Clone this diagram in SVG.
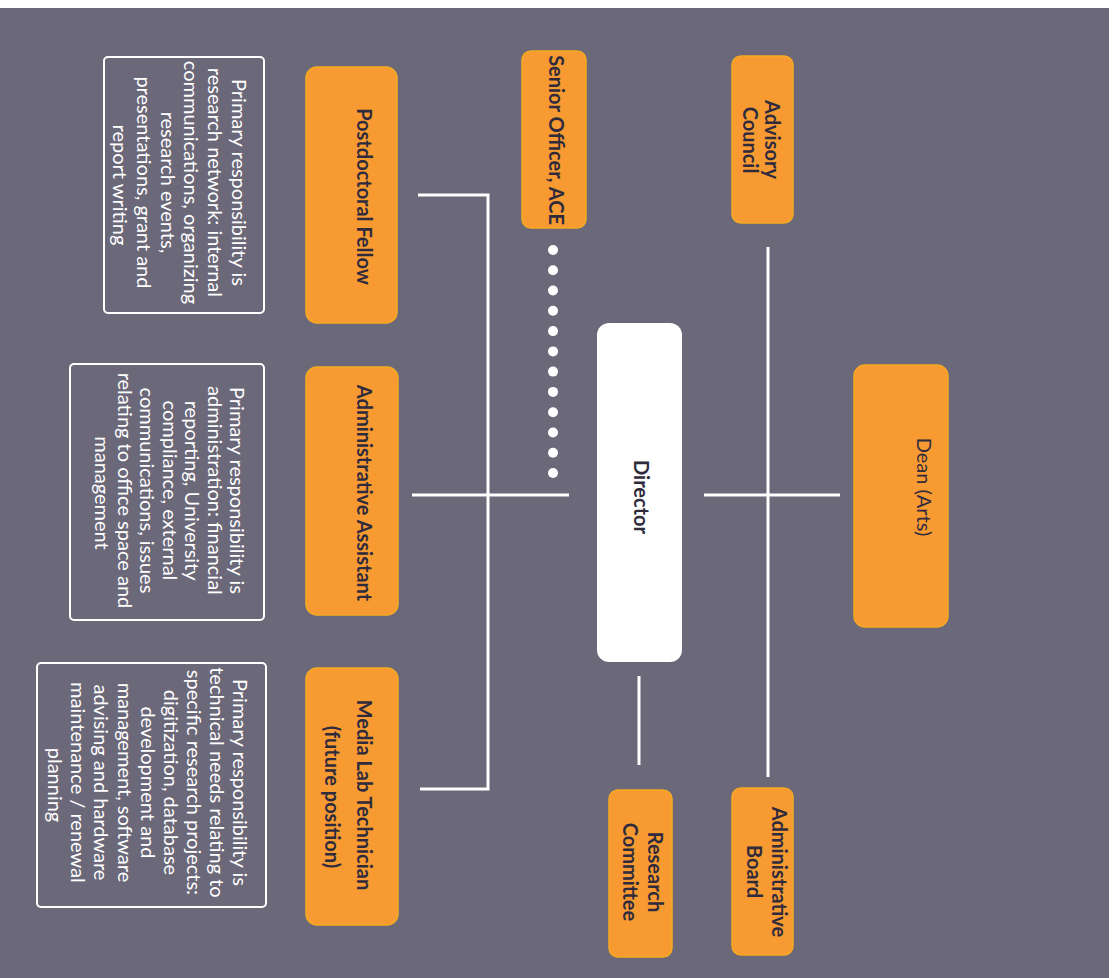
<svg xmlns="http://www.w3.org/2000/svg" width="1112" height="978" viewBox="0 0 1112 978">
<style>
.bg{fill:#6b6879}
.org{fill:#f89a32;stroke:#f4ab22;stroke-width:1.5}
.dir{fill:#ffffff}
.desc{fill:none;stroke:#ffffff;stroke-width:2}
.lbl{font-family:Lato,"Open Sans",sans-serif;font-size:20px;font-weight:bold;fill:#2f2b3d;text-anchor:middle}
.lbln{font-weight:normal}
.dt{font-family:Lato,"Open Sans",sans-serif;font-size:20px;fill:#ffffff;text-anchor:middle}
.ln{stroke:#ffffff;stroke-width:3;fill:none}
.dot{fill:#ffffff}
</style>
<rect x="0" y="0" width="1112" height="978" fill="#ffffff"/>
<rect class="bg" x="0" y="8" width="1109" height="970"/>

<g id="connectors">
<line class="ln" x1="768" y1="247" x2="768" y2="777"/>
<line class="ln" x1="704" y1="495" x2="840" y2="495"/>
<line class="ln" x1="639" y1="676" x2="639" y2="765"/>
<line class="ln" x1="412" y1="495" x2="569" y2="495"/>
<polyline class="ln" points="418,195 488,195 488,789 420,789"/>
<g id="dotted">
<circle class="dot" cx="553" cy="250" r="5"/>
<circle class="dot" cx="553" cy="270.3" r="5"/>
<circle class="dot" cx="553" cy="290.5" r="5"/>
<circle class="dot" cx="553" cy="310.8" r="5"/>
<circle class="dot" cx="553" cy="331.1" r="5"/>
<circle class="dot" cx="553" cy="351.4" r="5"/>
<circle class="dot" cx="553" cy="371.6" r="5"/>
<circle class="dot" cx="553" cy="391.9" r="5"/>
<circle class="dot" cx="553" cy="412.2" r="5"/>
<circle class="dot" cx="553" cy="432.5" r="5"/>
<circle class="dot" cx="553" cy="452.7" r="5"/>
<circle class="dot" cx="553" cy="473" r="5"/>
</g>
</g>

<g id="director">
<rect class="dir" x="597" y="323" width="85" height="339" rx="12"/>
<text class="lbl" transform="translate(634,497) rotate(90)">Director</text>
</g>

<g id="dean">
<rect class="org" x="854" y="365" width="94" height="262" rx="11"/>
<text class="lbl lbln" transform="translate(917,487) rotate(90)">Dean (Arts)</text>
</g>

<g id="advisory-council">
<rect class="org" x="732" y="56" width="61" height="167" rx="9"/>
<text class="lbl" transform="translate(765,139.5) rotate(90)">Advisory</text>
<text class="lbl" transform="translate(743,140) rotate(90)">Council</text>
</g>

<g id="administrative-board">
<rect class="org" x="732" y="788" width="61" height="167" rx="9"/>
<text class="lbl" transform="translate(772,872) rotate(90)">Administrative</text>
<text class="lbl" transform="translate(747,871.5) rotate(90)">Board</text>
</g>

<g id="research-committee">
<rect class="org" x="609" y="790" width="63" height="167" rx="9"/>
<text class="lbl" transform="translate(648,872) rotate(90)">Research</text>
<text class="lbl" transform="translate(623,872) rotate(90)">Committee</text>
</g>

<g id="senior-officer">
<rect class="org" x="522" y="51" width="64" height="177" rx="9"/>
<text class="lbl" transform="translate(549,140) rotate(90)">Senior Officer, ACE</text>
</g>

<g id="postdoctoral-fellow">
<rect class="org" x="306" y="67" width="91" height="256" rx="11"/>
<text class="lbl" transform="translate(357,196.5) rotate(90)">Postdoctoral Fellow</text>
</g>

<g id="administrative-assistant">
<rect class="org" x="306" y="367" width="92" height="248" rx="11"/>
<text class="lbl" transform="translate(357,493) rotate(90)">Administrative Assistant</text>
</g>

<g id="media-lab-technician">
<rect class="org" x="306" y="668" width="92" height="257" rx="11"/>
<text class="lbl" transform="translate(357,795) rotate(90)">Media Lab Technician</text>
<text class="lbl" transform="translate(325,797) rotate(90)">(future position)</text>
</g>

<g id="desc-postdoc">
<rect class="desc" x="104" y="57" width="160" height="256" rx="4"/>
<text class="dt" transform="translate(232,185) rotate(90)">
<tspan x="0" y="0">Primary responsibility is</tspan>
<tspan x="0" dy="23.8">research network: internal</tspan>
<tspan x="0" dy="23.8">communications, organizing</tspan>
<tspan x="0" dy="23.8">research events,</tspan>
<tspan x="0" dy="23.8">presentations, grant and</tspan>
<tspan x="0" dy="23.8">report writing</tspan>
</text>
</g>

<g id="desc-admin">
<rect class="desc" x="70" y="364" width="194" height="256" rx="4"/>
<text class="dt" transform="translate(230,493) rotate(90)">
<tspan x="0" y="0">Primary responsibility is</tspan>
<tspan x="0" dy="22.5">administration: financial</tspan>
<tspan x="0" dy="22.5">reporting, University</tspan>
<tspan x="0" dy="22.5">compliance, external</tspan>
<tspan x="0" dy="22.5">communications, issues</tspan>
<tspan x="0" dy="22.5">relating to office space and</tspan>
<tspan x="0" dy="22.5">management</tspan>
</text>
</g>

<g id="desc-media">
<rect class="desc" x="37" y="663" width="229" height="244" rx="4"/>
<text class="dt" transform="translate(233,785) rotate(90)">
<tspan x="0" y="0">Primary responsibility is</tspan>
<tspan x="0" dy="23.1">technical needs relating to</tspan>
<tspan x="0" dy="23.1">specific research projects:</tspan>
<tspan x="0" dy="23.1">digitization, database</tspan>
<tspan x="0" dy="23.1">development and</tspan>
<tspan x="0" dy="23.1">management, software</tspan>
<tspan x="0" dy="23.1">advising and hardware</tspan>
<tspan x="0" dy="23.1">maintenance  / renewal</tspan>
<tspan x="0" dy="23.1">planning</tspan>
</text>
</g>
</svg>
